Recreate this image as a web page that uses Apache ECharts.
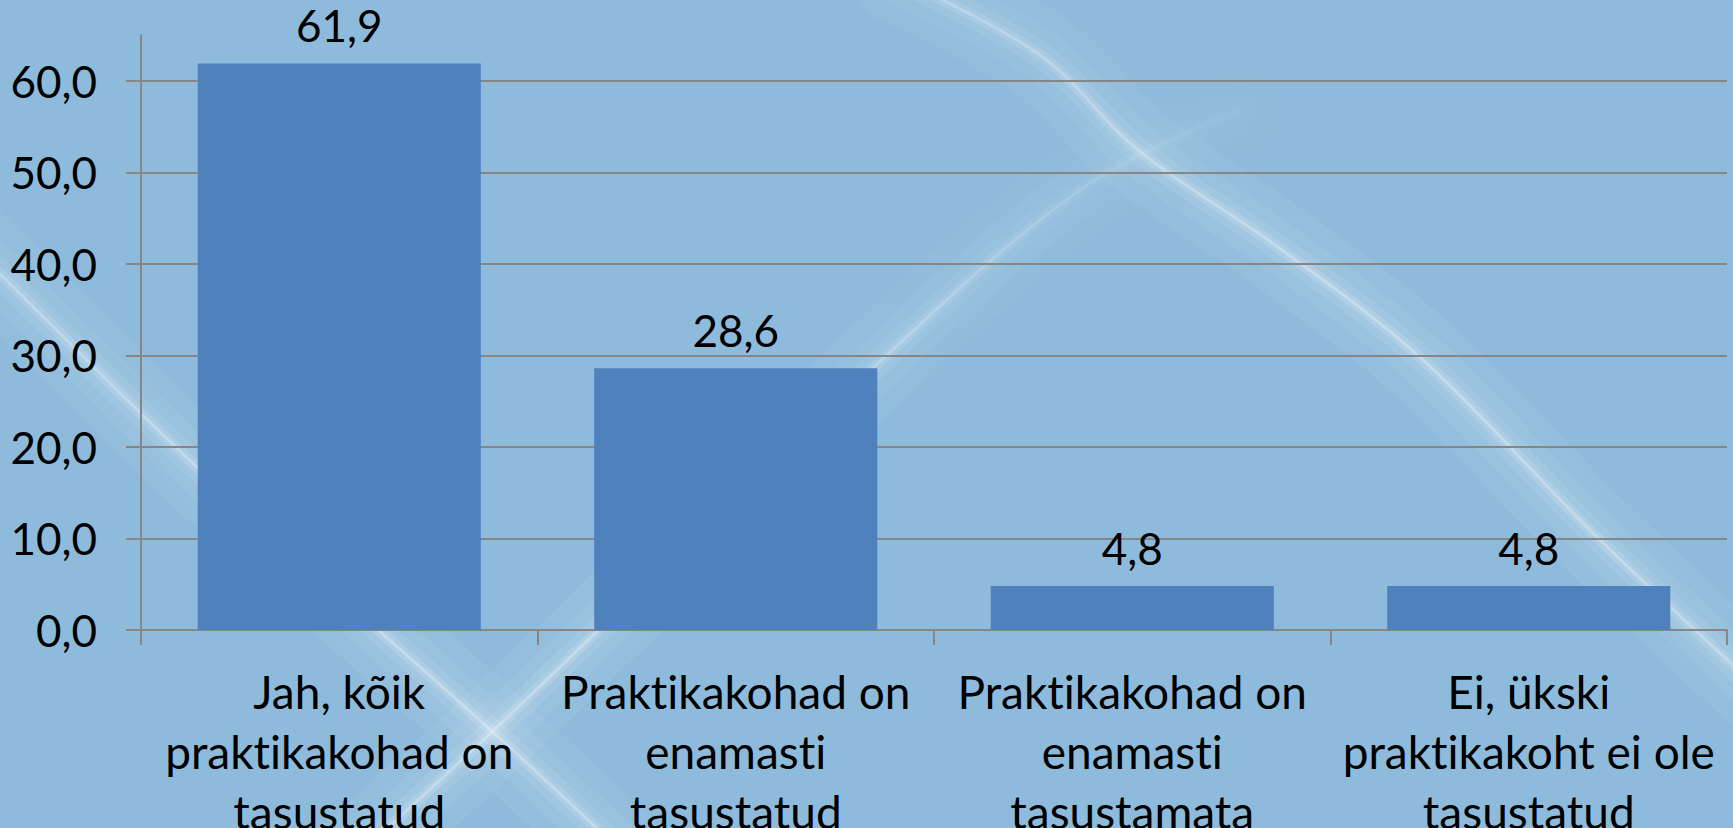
<!DOCTYPE html>
<html>
<head>
    <meta charset="utf-8">
    <title>Praktikakohtade tasustamine</title>
    <script src="https://cdn.jsdelivr.net/npm/echarts@6/dist/echarts.min.js"></script>
    <style>
        html, body { margin: 0; padding: 0; background: #8ebbdb; }
        /* Lato "ti" ligatuur välja */
        #main text { font-variant-ligatures: none; font-feature-settings: "liga" 0, "clig" 0; }
    </style>
</head>
<body>
    <div id="main" style="width: 1733px;height:828px;"></div>
    <script type="text/javascript">
        // andmed
        var categories = [
            'Jah, kõik\npraktikakohad on\ntasustatud',
            'Praktikakohad on\nenamasti\ntasustatud',
            'Praktikakohad on\nenamasti\ntasustamata',
            'Ei, ükski\npraktikakoht ei ole\ntasustatud'
        ];
        var values = [61.9, 28.6, 4.8, 4.8];
        var yTicks = [0, 10, 20, 30, 40, 50, 60];

        var myChart = echarts.init(document.getElementById('main'), null, { renderer: 'svg' });

        function comma(v, d) {
            return Number(v).toFixed(d).replace('.', ',');
        }

        // taustal olevad heledad kaared (pehme kuma + hele keskjoon)
        function streak(points, x0, y0, x1, y1, fadeStart, fadeEnd) {
            function grad(a) {
                return new echarts.graphic.LinearGradient(x0, y0, x1, y1, [
                    { offset: 0, color: 'rgba(255,255,255,' + (a * fadeStart) + ')' },
                    { offset: 0.5, color: 'rgba(255,255,255,' + a + ')' },
                    { offset: 1, color: 'rgba(255,255,255,' + (a * fadeEnd) + ')' }
                ], true);
            }
            var layers = [[90, 0.045], [52, 0.06], [26, 0.09], [11, 0.14], [3, 0.28]];
            return layers.map(function (l, i) {
                return {
                    type: 'polyline', z: -10 + i, silent: true,
                    shape: { points: points, smooth: 0.35 },
                    style: { fill: null, stroke: grad(l[1]), lineWidth: l[0], lineCap: 'round' }
                };
            });
        }

        var bg = [].concat(
            streak([[-40, 235], [0, 274], [200, 470], [494, 733], [620, 850]], 0, 270, 600, 840, 0.8, 0.9),
            streak([[330, 880], [494, 730], [857, 383], [1080, 190], [1240, 110]], 330, 880, 1240, 110, 0.9, 0.1),
            streak([[900, -20], [1040, 55], [1138, 150], [1282, 250], [1423, 360], [1596, 536], [1760, 690]], 900, 0, 1733, 680, 0.7, 0.9)
        );

        var font = 'Lato';

        var option = {
            backgroundColor: '#8ebbdb',
            animation: false,
            graphic: bg,
            grid: {
                left: 141,
                right: 6,
                top: 35,
                bottom: 198,
                outerBoundsMode: 'none',
                containLabel: false
            },
            xAxis: {
                type: 'category',
                data: categories,
                axisLine: { lineStyle: { color: '#868686', width: 2 } },
                axisTick: { show: true, length: 15, lineStyle: { color: '#868686', width: 2 } },
                axisLabel: {
                    interval: 0,
                    margin: 31,
                    color: '#000',
                    fontFamily: font,
                    fontSize: 46,
                    lineHeight: 60
                }
            },
            yAxis: {
                type: 'value',
                min: 0,
                max: 65,
                interval: 10,
                axisLine: { show: true, lineStyle: { color: '#868686', width: 2 } },
                axisTick: { show: true, length: 15, customValues: yTicks, lineStyle: { color: '#868686', width: 2 } },
                splitLine: { show: true, lineStyle: { color: '#868686', width: 2 } },
                axisLabel: {
                    customValues: yTicks,
                    margin: 44,
                    color: '#000',
                    fontFamily: font,
                    fontSize: 44,
                    formatter: function (v) { return comma(v, 1); }
                }
            },
            series: [
                {
                    type: 'bar',
                    data: values,
                    barCategoryGap: '28.6%',
                    itemStyle: { color: '#4f81bd' },
                    label: {
                        show: true,
                        position: 'top',
                        distance: 16,
                        color: '#000',
                        fontFamily: font,
                        fontSize: 44,
                        formatter: function (p) { return comma(p.value, 1); }
                    }
                }
            ]
        };

        myChart.setOption(option);
    </script>
</body>
</html>
